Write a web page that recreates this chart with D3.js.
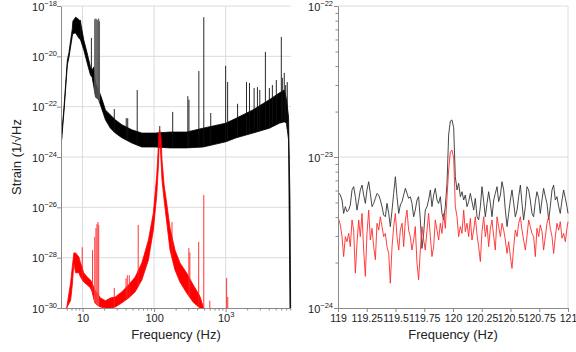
<!DOCTYPE html>
<html><head><meta charset="utf-8">
<script src="https://cdn.jsdelivr.net/npm/d3@7"></script>
<style>
html,body{margin:0;padding:0;background:#fff;}
svg{display:block;font-family:"Liberation Sans",Arial,Helvetica,sans-serif;}
</style></head>
<body><svg id="c" width="576" height="352"></svg>
<script>
// ---------- LEFT PANEL: full spectrum (band envelopes + line spikes) ----------
const leftBlackFreq   = [5.11,5.5,6.13,6.45,7.19,7.33,8.0,8.8,9.38,10.4,11.6,12.9,13.6,14.4,15.2,16.8,18.8,20.9,24.5,28.7,35.5,48.9,67.4,103,167,284,484,1000,1408,2395,4086,5623,6594,7100,7570,7925,8100];
const leftBlackTop    = [7.9e-24,8.9e-23,7e-21,1.4e-20,1.26e-19,2.5e-19,3.6e-19,3.0e-19,2.3e-19,4.5e-20,1.35e-20,3.8e-21,2.9e-21,3.8e-21,8.7e-22,4.6e-22,1.9e-22,7.4e-23,4.7e-23,3.0e-23,1.9e-23,1.2e-23,8.9e-24,8.9e-24,9.8e-24,9.8e-24,1.4e-23,2.2e-23,3.5e-23,7.4e-23,1.9e-22,3.5e-22,4.6e-22,1.9e-22,3.9e-23,1.9e-26,1e-30];
const leftBlackBottom = [5e-24,6.3e-23,4.5e-21,8.9e-21,6.3e-20,8e-20,8.5e-20,5.5e-20,4.5e-20,1.8e-20,5.5e-21,1.8e-21,1.5e-21,6.0e-22,2.4e-22,1.9e-22,7.4e-23,3.0e-23,1.4e-23,8.9e-24,5.8e-24,3.6e-24,2.5e-24,2.5e-24,2.3e-24,2.3e-24,2.5e-24,4.0e-24,5.8e-24,8.9e-24,1.4e-23,2.2e-23,2.5e-23,2.2e-23,4.8e-24,1e-30,1e-30];

const leftBlackSpikeFreq  = [9.38,13.3,27.8,40.8,42.8,58.1,120,182,296,307,422,495,619,1000,1066,1468,1957,2154,2500,2783,3000,3594,4084,4500,5109,5995,6200,6594,6900,7260];
const leftBlackSpikeValue = [2.8e-19,5.4e-20,8.1e-23,3.5e-23,3.5e-23,4.6e-22,1.7e-23,6.2e-23,2.6e-22,1.9e-22,2.6e-21,3.6e-19,5.6e-23,4.2e-21,9.5e-22,1.3e-22,9.5e-22,8.7e-22,5.5e-22,6.0e-22,4.6e-22,1.5e-20,5.5e-22,7.2e-22,1.15e-21,5.9e-20,1.4e-21,2.2e-21,7.2e-22,9.5e-22];
const leftBlackClusterFreq  = [14.8,15.3,15.8,16.3,16.8,17.2];
const leftBlackClusterValue = [3.0e-19,3.2e-19,3.0e-19,2.8e-19,3.2e-19,2.5e-19];

const leftRedFreq   = [6.0,6.81,7.19,7.57,8.0,8.88,9.38,10.4,11.6,12.9,13.6,14.8,16.0,17.8,20.9,24.5,28.7,35.5,44.0,54.4,67.4,83.3,97.7,109,115,117,120,125,129,138,150,167,196,230,284,352,435,479,490];
const leftRedTop    = [1e-30,1e-29,4.3e-29,1.55e-28,1.55e-28,1.07e-28,6.2e-29,2.5e-29,1.7e-29,1.3e-29,1e-29,5.2e-30,4.0e-30,2.5e-30,1.95e-30,2.5e-30,2.75e-30,4.4e-30,8.3e-30,1.7e-29,6.2e-29,5.0e-28,6.0e-27,1.95e-25,3.0e-24,9.8e-24,1.17e-23,5.7e-24,7.6e-25,7.8e-26,1.48e-26,1.5e-27,2.0e-28,6.2e-29,2.5e-29,8.3e-30,3.0e-30,1.3e-30,1e-30];
const leftRedBottom = [1e-30,2e-30,8e-30,6.2e-29,2.5e-29,2.5e-29,1.7e-29,1.07e-29,8.3e-30,6.3e-30,4.4e-30,1.6e-30,1.3e-30,1.1e-30,1e-30,1e-30,1.1e-30,1.6e-30,2.5e-30,4.4e-30,1.3e-29,8.1e-29,1.26e-27,3.1e-26,4.8e-25,1.9e-24,5.7e-24,7.6e-25,1.23e-25,1.95e-26,2.6e-27,2.0e-28,3.2e-29,1.07e-29,4.0e-30,1.7e-30,1e-30,1e-30,1e-30];

const leftRedSpikeFreq  = [9.9,13.8,27.8,40.5,42.2,45.0,60,178,306,316,420,495,600,1032,1070];
const leftRedSpikeValue = [2.6e-28,2.0e-28,6.3e-30,1.5e-29,2.0e-29,2.0e-29,2.0e-27,2.6e-27,2.4e-28,1.6e-28,4.2e-28,3.1e-26,1.95e-30,1.55e-29,2.75e-30];
const leftRedClusterFreq  = [14.8,15.4,15.9,16.4,16.8];
const leftRedClusterValue = [6.6e-28,1.5e-27,2.2e-27,2.6e-27,2.0e-27];

const leftXTicks = [10,100,1000];
const leftXTickLabels = [["10",""],["100",""],["10","3"]];
const leftXMinor = [6,7,8,9,20,30,40,50,60,70,80,90,200,300,400,500,600,700,800,900,2000,3000,4000,5000,6000,7000,8000];
const leftYTicks = [1e-30,1e-28,1e-26,1e-24,1e-22,1e-20,1e-18];
const leftYTickExp = ["−30","−28","−26","−24","−22","−20","−18"];

// ---------- RIGHT PANEL: zoom around 120 Hz (values in units of 1e-24) ----------
const zoomUnit = 1e-24;
const zoomFreq = [
119.000,119.020,119.035,119.049,119.064,119.078,119.093,119.107,119.122,119.136,
119.151,119.165,119.180,119.194,119.209,119.223,119.238,119.252,119.267,119.281,
119.296,119.310,119.325,119.339,119.354,119.368,119.383,119.397,119.412,119.426,
119.441,119.455,119.470,119.484,119.499,119.513,119.528,119.542,119.557,119.571,
119.586,119.600,119.614,119.629,119.643,119.658,119.672,119.687,119.701,119.716,
119.730,119.745,119.759,119.774,119.788,119.803,119.817,119.832,119.846,119.861,
119.875,119.890,119.904,119.919,119.933,119.948,119.962,119.977,119.991,120.006,
120.020,120.035,120.049,120.064,120.078,120.093,120.107,120.122,120.136,120.151,
120.165,120.180,120.194,120.209,120.223,120.238,120.252,120.267,120.281,120.296,
120.310,120.325,120.339,120.354,120.368,120.383,120.397,120.412,120.426,120.441,
120.455,120.470,120.484,120.499,120.513,120.528,120.542,120.557,120.571,120.586,
120.600,120.614,120.629,120.643,120.658,120.672,120.687,120.701,120.716,120.730,
120.745,120.759,120.774,120.788,120.803,120.817,120.832,120.846,120.861,120.875,
120.890,120.904,120.919,120.933,120.948,120.962,120.977,120.991,121.000];
const zoomBlack = [
5.89,5.60,5.19,4.23,4.69,4.34,4.45,4.81,6.05,6.36,
5.46,4.45,5.19,6.05,6.52,5.60,4.93,6.05,6.86,5.74,
4.69,4.93,5.32,5.74,5.60,5.19,4.69,4.13,4.02,4.93,
4.23,3.46,4.45,5.74,7.40,5.46,4.23,4.81,5.06,5.60,
6.20,5.74,5.32,5.46,4.93,4.02,4.45,5.19,5.46,3.83,
2.48,3.12,4.45,4.69,5.19,6.05,4.69,5.60,6.20,5.19,
4.93,5.46,4.23,3.83,4.69,6.69,14.0,17.3,17.6,15.6,
7.40,6.05,6.69,5.46,5.89,5.19,5.60,4.69,5.06,5.74,
5.06,4.45,5.32,4.02,3.83,4.69,6.36,5.06,4.02,4.93,
5.89,4.93,4.02,5.19,5.74,6.36,5.06,5.60,6.86,6.05,
4.45,3.46,4.23,5.19,6.05,4.93,4.02,4.45,5.46,6.52,
4.93,3.83,4.69,6.36,6.05,5.19,4.23,4.02,5.06,5.89,
5.32,4.23,5.19,6.20,5.46,4.93,3.83,4.69,6.05,6.52,
5.19,5.46,4.69,4.23,5.19,6.05,5.32,4.69,4.23];
const zoomRed = [
4.02,3.55,2.97,2.19,2.97,2.75,3.12,2.55,3.83,3.28,
1.70,2.68,3.83,2.97,4.23,2.42,1.62,3.12,4.45,2.82,
3.37,2.55,2.09,3.64,3.28,4.02,3.46,2.97,3.12,2.55,
2.30,1.46,2.55,3.46,4.23,2.97,2.42,3.28,3.64,2.55,
3.83,4.45,3.28,2.97,2.42,2.82,3.46,1.98,1.54,2.42,
3.46,2.82,2.42,3.28,4.23,2.97,2.19,2.55,3.83,3.28,
2.82,3.64,3.12,4.23,3.37,5.46,8.20,10.8,11.1,9.85,
4.69,4.02,2.97,3.46,3.12,4.45,3.20,3.64,2.97,3.92,
2.82,3.28,4.02,3.05,2.55,2.03,3.20,4.02,2.97,3.55,
2.55,3.37,3.83,2.97,2.42,4.02,3.46,2.97,3.64,3.28,
2.82,2.30,2.75,2.19,1.83,2.55,3.28,2.97,3.64,4.02,
3.28,2.82,2.42,2.97,3.83,3.46,3.12,2.97,2.19,3.37,
2.97,3.55,3.20,2.42,2.97,3.64,4.02,3.37,2.97,2.30,
2.97,3.64,3.28,3.73,2.90,3.12,2.75,3.37,3.73];
const rightXTicks = [119,119.25,119.5,119.75,120,120.25,120.5,120.75,121];
const rightXTickLabels = ["119","119.25","119.5","119.75","120","120.25","120.5","120.75","121"];
const rightYTicks = [1e-24,1e-23,1e-22];
const rightYTickExp = ["−24","−23","−22"];
const rightYMinor = [2e-24,3e-24,4e-24,5e-24,6e-24,7e-24,8e-24,9e-24,2e-23,3e-23,4e-23,5e-23,6e-23,7e-23,8e-23,9e-23];

const xLabel = "Frequency (Hz)";
const yLabel = "Strain (1/√Hz";

// ---------- drawing ----------
const svg = d3.select("#c");
const L = {x0:61, x1:291, y0:6, y1:308};
const R = {x0:338, x1:568, y0:6, y1:308};
const xL = d3.scaleLog().domain([5,8192]).range([L.x0,L.x1]);
const yL = d3.scaleLog().domain([1e-30,1e-18]).range([L.y1,L.y0]);
const xR = d3.scaleLinear().domain([119,121]).range([R.x0,R.x1]);
const yR = d3.scaleLog().domain([1e-24,1e-22]).range([R.y1,R.y0]);

const gridC = "#dcdcdc", axisC = "#8a8a8a", textC = "#222";

const defs = svg.append("defs");
defs.append("clipPath").attr("id","clipL").append("rect").attr("x",L.x0).attr("y",L.y0-1).attr("width",L.x1-L.x0+1).attr("height",L.y1-L.y0+1);
defs.append("clipPath").attr("id","clipR").append("rect").attr("x",R.x0).attr("y",R.y0-1).attr("width",R.x1-R.x0+1).attr("height",R.y1-R.y0+1);

// grids
const gL = svg.append("g");
gL.selectAll("line.hg").data(leftYTicks.slice(1)).join("line")
  .attr("x1",L.x0).attr("x2",L.x1).attr("y1",d=>yL(d)).attr("y2",d=>yL(d))
  .attr("stroke",gridC).attr("stroke-width",1);
gL.selectAll("line.vg").data(leftXTicks).join("line")
  .attr("x1",d=>xL(d)).attr("x2",d=>xL(d)).attr("y1",L.y0).attr("y2",L.y1)
  .attr("stroke",gridC).attr("stroke-width",1);
const gR = svg.append("g");
gR.selectAll("line.hg").data(rightYTicks.slice(1)).join("line")
  .attr("x1",R.x0).attr("x2",R.x1).attr("y1",d=>yR(d)).attr("y2",d=>yR(d))
  .attr("stroke",gridC).attr("stroke-width",1);
gR.append("line").attr("x1",xR(121)).attr("x2",xR(121)).attr("y1",R.y0).attr("y2",R.y1)
  .attr("stroke",gridC).attr("stroke-width",1);

function interpLog(fs, vs, f){
  if (f <= fs[0]) return vs[0];
  if (f >= fs[fs.length-1]) return vs[vs.length-1];
  const i = d3.bisectRight(fs, f);
  const t = (Math.log(f)-Math.log(fs[i-1]))/(Math.log(fs[i])-Math.log(fs[i-1]));
  return Math.exp(Math.log(vs[i-1]) + t*(Math.log(vs[i])-Math.log(vs[i-1])));
}
function band(fs, top, bot){ return fs.map((f,i)=>({f, hi:top[i], lo:bot[i]})); }
const areaL = d3.area().x(d=>xL(d.f)).y0(d=>yL(d.lo)).y1(d=>yL(d.hi));

const plotL = svg.append("g").attr("clip-path","url(#clipL)");
// black
plotL.append("path").datum(band(leftBlackFreq,leftBlackTop,leftBlackBottom))
  .attr("d",areaL).attr("fill","#000").attr("stroke","#000").attr("stroke-width",0.8);
plotL.selectAll("line.bc").data(leftBlackClusterFreq.map((f,i)=>({f,v:leftBlackClusterValue[i]}))).join("line")
  .attr("x1",d=>xL(d.f)).attr("x2",d=>xL(d.f))
  .attr("y1",d=>yL(d.v)).attr("y2",d=>yL(interpLog(leftBlackFreq,leftBlackBottom,d.f)))
  .attr("stroke","#555").attr("stroke-width",1.1);
plotL.selectAll("line.bs").data(leftBlackSpikeFreq.map((f,i)=>({f,v:leftBlackSpikeValue[i]}))).join("line")
  .attr("x1",d=>xL(d.f)).attr("x2",d=>xL(d.f))
  .attr("y1",d=>yL(d.v)).attr("y2",d=>yL(interpLog(leftBlackFreq,leftBlackBottom,d.f)))
  .attr("stroke","#111").attr("stroke-width",0.9);
// red
plotL.append("path").datum(band(leftRedFreq,leftRedTop,leftRedBottom))
  .attr("d",areaL).attr("fill","#ff0000").attr("stroke","#ff0000").attr("stroke-width",0.8);
plotL.selectAll("line.rc").data(leftRedClusterFreq.map((f,i)=>({f,v:leftRedClusterValue[i]}))).join("line")
  .attr("x1",d=>xL(d.f)).attr("x2",d=>xL(d.f))
  .attr("y1",d=>yL(d.v)).attr("y2",d=>yL(interpLog(leftRedFreq,leftRedBottom,d.f)))
  .attr("stroke","#ff4a4a").attr("stroke-width",1.1);
plotL.selectAll("line.rs").data(leftRedSpikeFreq.map((f,i)=>({f,v:leftRedSpikeValue[i]}))).join("line")
  .attr("x1",d=>xL(d.f)).attr("x2",d=>xL(d.f))
  .attr("y1",d=>yL(d.v)).attr("y2",d=>yL(interpLog(leftRedFreq,leftRedBottom,d.f)))
  .attr("stroke","#ff2020").attr("stroke-width",0.9);

// right lines
const plotR = svg.append("g").attr("clip-path","url(#clipR)");
const lineR = d3.line().x(d=>xR(d.f)).y(d=>yR(d.v));
plotR.append("path").datum(zoomFreq.map((f,i)=>({f,v:zoomBlack[i]*zoomUnit})))
  .attr("d",lineR).attr("fill","none").attr("stroke","#333").attr("stroke-width",0.9);
plotR.append("path").datum(zoomFreq.map((f,i)=>({f,v:zoomRed[i]*zoomUnit})))
  .attr("d",lineR).attr("fill","none").attr("stroke","#ff2a2a").attr("stroke-width",0.9);

// axes
function styleAxis(g){
  g.selectAll(".domain").attr("stroke",axisC);
  g.selectAll(".tick line").attr("stroke",axisC);
  g.selectAll(".tick text").remove();
}
// left panel
const axLx = svg.append("g").attr("transform",`translate(0,${L.y1})`)
  .call(d3.axisBottom(xL).tickValues(leftXTicks).tickSize(4).tickSizeOuter(0).tickFormat(""));
styleAxis(axLx);
axLx.selectAll(".domain").attr("d",`M${L.x0},0.5H${L.x1}`);
const axLxm = svg.append("g").attr("transform",`translate(0,${L.y1})`)
  .call(d3.axisBottom(xL).tickValues(leftXMinor).tickSize(2.5).tickFormat(""));
axLxm.select(".domain").remove(); styleAxis(axLxm);
axLx.selectAll(".tick").each(function(d,i){
  const t = d3.select(this).append("text").attr("y",14).attr("text-anchor","middle")
    .attr("fill",textC).attr("font-size",11);
  t.append("tspan").text(leftXTickLabels[i][0]);
  if (leftXTickLabels[i][1]) t.append("tspan").attr("font-size",7.5).attr("dy",-5).text(leftXTickLabels[i][1]);
});
const axLy = svg.append("g").attr("transform",`translate(${L.x0},0)`)
  .call(d3.axisLeft(yL).tickValues(leftYTicks).tickSize(4).tickSizeOuter(0).tickFormat(""));
styleAxis(axLy);
axLy.selectAll(".tick").each(function(d,i){
  const t = d3.select(this).append("text").attr("x",-4).attr("y",4).attr("text-anchor","end")
    .attr("fill",textC).attr("font-size",11);
  t.append("tspan").text("10");
  t.append("tspan").attr("font-size",7.5).attr("dy",-5).text(leftYTickExp[i]);
});
// right panel
const axRx = svg.append("g").attr("transform",`translate(0,${R.y1})`)
  .call(d3.axisBottom(xR).tickValues(rightXTicks).tickSize(4).tickSizeOuter(0).tickFormat(""));
styleAxis(axRx);
axRx.selectAll(".tick").each(function(d,i){
  d3.select(this).append("text").attr("y",14).attr("text-anchor","middle")
    .attr("fill",textC).attr("font-size",10.5).text(rightXTickLabels[i]);
});
const axRy = svg.append("g").attr("transform",`translate(${R.x0},0)`)
  .call(d3.axisLeft(yR).tickValues(rightYTicks).tickSize(4).tickSizeOuter(0).tickFormat(""));
styleAxis(axRy);
axRy.selectAll(".tick").each(function(d,i){
  const t = d3.select(this).append("text").attr("x",-5).attr("y",4).attr("text-anchor","end")
    .attr("fill",textC).attr("font-size",11);
  t.append("tspan").text("10");
  t.append("tspan").attr("font-size",7.5).attr("dy",-5).text(rightYTickExp[i]);
});
const axRym = svg.append("g").attr("transform",`translate(${R.x0},0)`)
  .call(d3.axisLeft(yR).tickValues(rightYMinor).tickSize(2.5).tickFormat(""));
axRym.select(".domain").remove(); styleAxis(axRym);

// axis titles
svg.append("text").attr("x",(L.x0+L.x1)/2).attr("y",339).attr("text-anchor","middle")
  .attr("font-size",13).attr("fill",textC).text(xLabel);
svg.append("text").attr("x",(R.x0+R.x1)/2).attr("y",339).attr("text-anchor","middle")
  .attr("font-size",13).attr("fill",textC).text(xLabel);
svg.append("text").attr("transform","translate(21,157) rotate(-90)").attr("text-anchor","middle")
  .attr("font-size",13).attr("fill",textC).text(yLabel);
</script></body></html>
